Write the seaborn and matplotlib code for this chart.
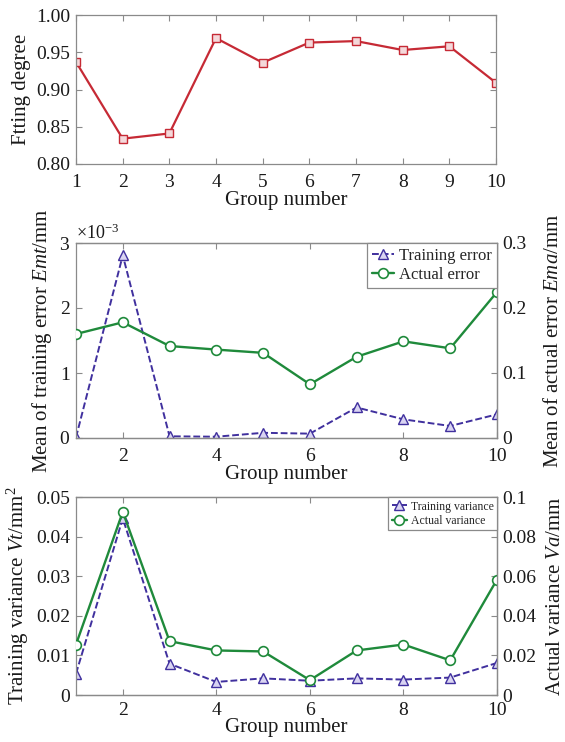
import numpy as np
import pandas as pd
import matplotlib
matplotlib.use("Agg")
import matplotlib.pyplot as plt
from matplotlib.ticker import ScalarFormatter
import seaborn as sns

# ---- data ----
groups = [1, 2, 3, 4, 5, 6, 7, 8, 9, 10]
fitting_degree = [0.937, 0.834, 0.841, 0.969, 0.936, 0.963, 0.965, 0.953, 0.958, 0.909]

training_error = [0.00001, 0.00281, 0.000026, 0.00002, 0.00008, 0.000067, 0.00047, 0.000287, 0.000185, 0.000364]
actual_error = [0.160, 0.178, 0.1415, 0.136, 0.131, 0.0826, 0.125, 0.1487, 0.138, 0.2246]

training_variance = [0.0054, 0.0446, 0.0079, 0.0033, 0.0042, 0.0036, 0.0042, 0.0039, 0.0044, 0.0081]
actual_variance = [0.0255, 0.0925, 0.0272, 0.0225, 0.0220, 0.0075, 0.0225, 0.0255, 0.0175, 0.0583]

sns.set_theme(style="ticks")
plt.rcParams["font.family"] = ["Liberation Serif", "DejaVu Serif"]
plt.rcParams["mathtext.fontset"] = "custom"
plt.rcParams["mathtext.rm"] = "Liberation Serif"
plt.rcParams["mathtext.it"] = "Liberation Serif:italic"

SPINE = "#8a8a8a"
TXT = "#1a1a1a"
RED = "#c62a35"
PURPLE = "#40309e"
GREEN = "#1f8a3b"
TICK_FS = 14
LABEL_FS = 15

fig = plt.figure(figsize=(5.65, 7.42), dpi=100)
W, H = 565, 742


def add_axes(left, right, top, bottom):
    return fig.add_axes([left / W, 1 - bottom / H, (right - left) / W, (bottom - top) / H])


def style(ax, xpad=7):
    for s in ax.spines.values():
        s.set_color(SPINE)
        s.set_linewidth(0.9)
    ax.tick_params(direction="in", length=4, width=0.8, color=SPINE,
                   labelsize=TICK_FS, labelcolor=TXT, pad=4)
    ax.tick_params(axis="x", pad=xpad)


# ---- panel 1: fitting degree ----
ax1 = add_axes(76, 496, 15, 164)
df1 = pd.DataFrame({"group": groups, "fit": fitting_degree})
sns.lineplot(data=df1, x="group", y="fit", ax=ax1, color=RED, lw=1.6,
             marker="s", markersize=6, markerfacecolor="#f4d8da",
             markeredgecolor=RED, markeredgewidth=1.0)
ax1.set_xlim(1, 10)
ax1.set_ylim(0.80, 1.00)
ax1.set_xticks(groups)
ax1.set_yticks([0.80, 0.85, 0.90, 0.95, 1.00])
ax1.set_yticklabels(["0.80", "0.85", "0.90", "0.95", "1.00"])
style(ax1)
ax1.tick_params(top=True, right=True)
ax1.set_xlabel("Group number", fontsize=LABEL_FS, color=TXT, labelpad=0)
ax1.set_ylabel("Ftting degree", fontsize=LABEL_FS, color=TXT, labelpad=4)


def twin_panel(top, bottom, y_left, y_right, lab_left, lab_right,
               left_lim, left_ticks, left_labels, right_lim, right_ticks, right_labels,
               legend_fs, sci=False, xpad=7, xlabelpad=0):
    ax = add_axes(76, 497, top, bottom)
    axr = ax.twinx()
    df = pd.DataFrame({"group": groups, "left": y_left, "right": y_right})
    sns.lineplot(data=df, x="group", y="left", ax=ax, color=PURPLE, lw=1.4,
                 linestyle=(0, (3.5, 1.5)), marker="^", markersize=7,
                 markerfacecolor="#d9d4f2", markeredgecolor=PURPLE,
                 markeredgewidth=1.0, label=lab_left, legend=False)
    sns.lineplot(data=df, x="group", y="right", ax=axr, color=GREEN, lw=1.7,
                 marker="o", markersize=7, markerfacecolor="white",
                 markeredgecolor=GREEN, markeredgewidth=1.2, label=lab_right, legend=False)
    ax.set_xlim(1, 10)
    ax.set_xticks([2, 4, 6, 8, 10])
    ax.set_ylim(*left_lim)
    ax.set_yticks(left_ticks)
    if sci:
        fmt = ScalarFormatter(useMathText=True)
        fmt.set_powerlimits((-3, -3))
        ax.yaxis.set_major_formatter(fmt)
        ax.yaxis.get_offset_text().set_fontsize(TICK_FS - 1)
        ax.yaxis.get_offset_text().set_color(TXT)
    else:
        ax.set_yticklabels(left_labels)
    axr.set_ylim(*right_lim)
    axr.set_yticks(right_ticks)
    axr.set_yticklabels(right_labels)
    style(ax, xpad)
    style(axr, xpad)
    ax.tick_params(top=True)
    axr.spines["left"].set_visible(False)
    ax.set_xlabel("Group number", fontsize=LABEL_FS, color=TXT, labelpad=xlabelpad)
    h1, l1 = ax.get_legend_handles_labels()
    h2, l2 = axr.get_legend_handles_labels()
    leg = axr.legend(h1 + h2, l1 + l2, loc="upper right", borderaxespad=0,
                     fontsize=legend_fs, frameon=True, fancybox=False,
                     edgecolor=SPINE, framealpha=1, handlelength=1.3,
                     handletextpad=0.3, labelspacing=0.2, borderpad=0.3)
    leg.get_frame().set_linewidth(0.9)
    return ax, axr


ax2, ax2r = twin_panel(243, 438, training_error, actual_error,
                       "Training error", "Actual error",
                       (0, 0.003), [0, 0.001, 0.002, 0.003], None,
                       (0, 0.3), [0, 0.1, 0.2, 0.3], ["0", "0.1", "0.2", "0.3"],
                       legend_fs=12, sci=True)
ax2.set_ylabel("Mean of training error $Emt$/mm", fontsize=LABEL_FS, color=TXT, labelpad=4)
ax2r.set_ylabel("Mean of actual error $Ema$/mm", fontsize=LABEL_FS, color=TXT, labelpad=12)

ax3, ax3r = twin_panel(497, 695, training_variance, actual_variance,
                       "Training variance", "Actual variance",
                       (0, 0.05), [0, 0.01, 0.02, 0.03, 0.04, 0.05],
                       ["0", "0.01", "0.02", "0.03", "0.04", "0.05"],
                       (0, 0.1), [0, 0.02, 0.04, 0.06, 0.08, 0.1],
                       ["0", "0.02", "0.04", "0.06", "0.08", "0.1"],
                       legend_fs=8.5, xpad=5, xlabelpad=-1)
ax3.set_ylabel("Training variance $Vt$/mm$^2$", fontsize=LABEL_FS, color=TXT, labelpad=4)
ax3r.set_ylabel("Actual variance $Va$/mm", fontsize=LABEL_FS, color=TXT, labelpad=7)

fig.savefig("out.png", dpi=100)
